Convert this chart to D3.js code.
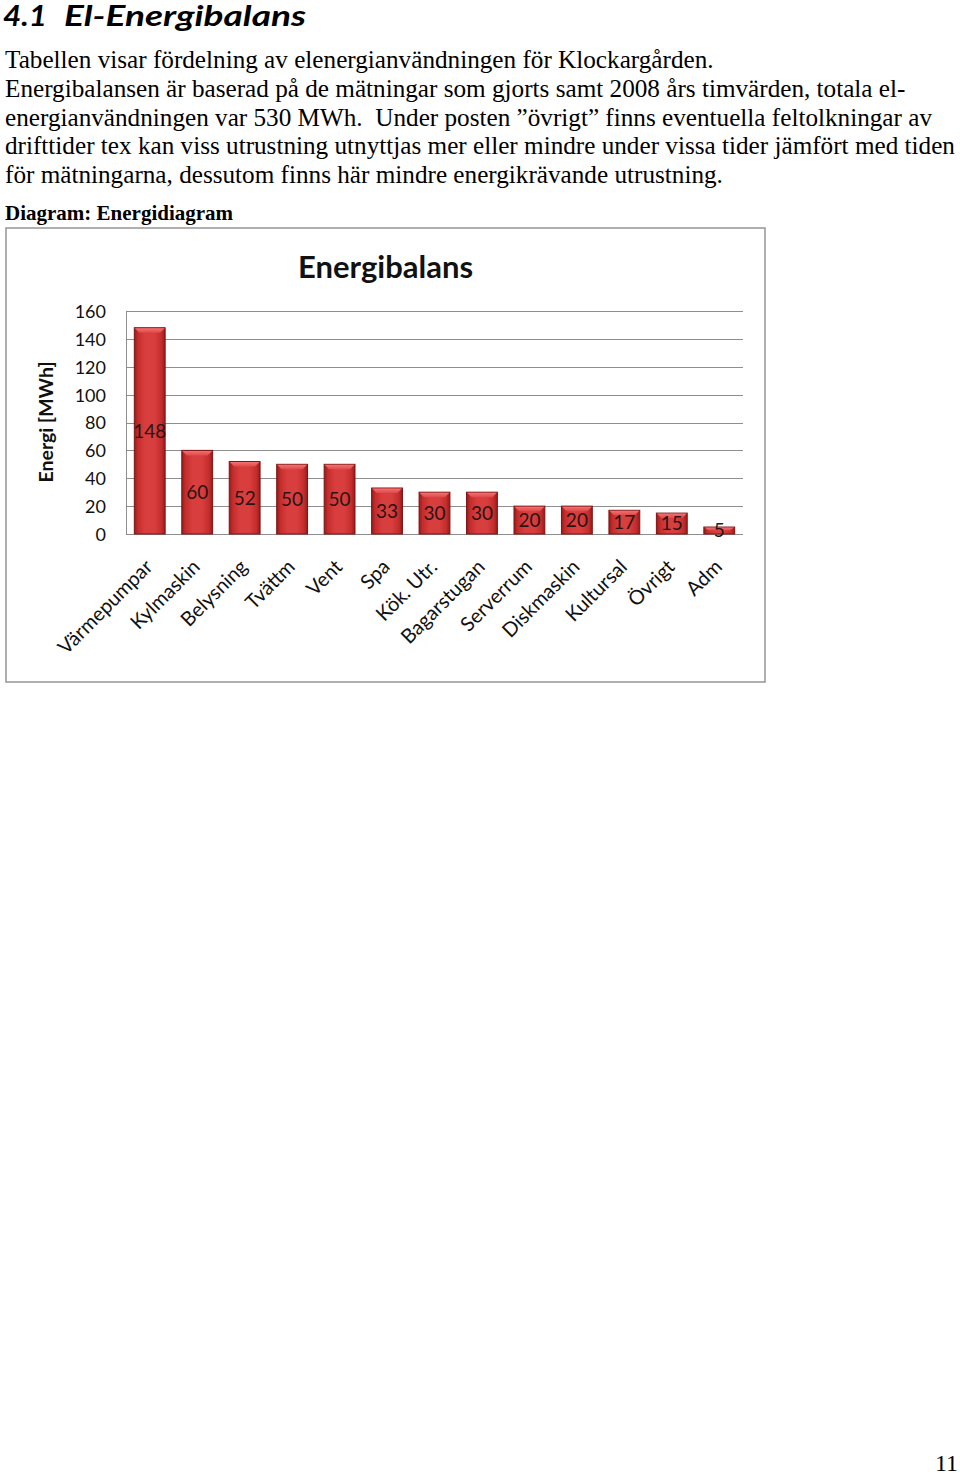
<!DOCTYPE html>
<html>
<head>
<meta charset="utf-8">
<script src="https://cdn.jsdelivr.net/npm/d3@7"></script>
<style>
  html, body { margin: 0; padding: 0; background: #fff; }
  svg { display: block; }
</style>
</head>
<body>
<svg id="page" width="960" height="1478"></svg>
<script>
// ---- data ----
const categories = ["Värmepumpar", "Kylmaskin", "Belysning", "Tvättm", "Vent", "Spa", "Kök. Utr.", "Bagarstugan", "Serverrum", "Diskmaskin", "Kultursal", "Övrigt", "Adm"];
const values = [148, 60, 52, 50, 50, 33, 30, 30, 20, 20, 17, 15, 5];
const yTicks = [0, 20, 40, 60, 80, 100, 120, 140, 160];
const headingNum = "4.1";
const headingText = "El-Energibalans";
const bodyLines = [
  "Tabellen visar fördelning av elenergianvändningen för Klockargården.",
  "Energibalansen är baserad på de mätningar som gjorts samt 2008 års timvärden, totala el-",
  "energianvändningen var 530 MWh.  Under posten ”övrigt” finns eventuella feltolkningar av",
  "drifttider tex kan viss utrustning utnyttjas mer eller mindre under vissa tider jämfört med tiden",
  "för mätningarna, dessutom finns här mindre energikrävande utrustning."
];
const captionText = "Diagram: Energidiagram";
const chartTitle = "Energibalans";
const yTitle = "Energi [MWh]";
const pageNumber = "11";

const svg = d3.select("#page");
const serif = "'Liberation Serif', 'Times New Roman', serif";
const sans = "Lato, 'Open Sans', sans-serif";

// ---- document text ----
const hd = svg.append("g")
  .attr("font-family", sans).attr("font-weight", "bold").attr("font-style", "italic")
  .attr("font-size", 29).attr("fill", "#000");
hd.append("text").attr("x", 3).attr("y", 26).attr("textLength", 44).attr("lengthAdjust", "spacingAndGlyphs").text(headingNum);
hd.append("text").attr("x", 64).attr("y", 26).attr("textLength", 242).attr("lengthAdjust", "spacingAndGlyphs").text(headingText);

svg.append("g").selectAll("text").data(bodyLines).join("text")
  .attr("x", 5)
  .attr("y", (d, i) => 68 + i * 28.8)
  .attr("font-family", serif).attr("font-size", 25.2).attr("fill", "#000")
  .attr("xml:space", "preserve")
  .text(d => d);

svg.append("text")
  .attr("x", 5).attr("y", 220)
  .attr("font-family", serif).attr("font-weight", "bold")
  .attr("font-size", 21).attr("fill", "#000")
  .text(captionText);

svg.append("text")
  .attr("x", 958).attr("y", 1471).attr("text-anchor", "end")
  .attr("font-family", serif).attr("font-size", 24).attr("fill", "#000")
  .text(pageNumber);

// ---- chart ----
const frame = { x: 6, y: 228, w: 759, h: 454 };
svg.append("rect")
  .attr("x", frame.x).attr("y", frame.y).attr("width", frame.w).attr("height", frame.h)
  .attr("fill", "#fff").attr("stroke", "#9c9c9c").attr("stroke-width", 1.6);

const plot = { left: 126, right: 743, top: 311, bottom: 534 };

const x = d3.scaleBand().domain(categories)
  .range([plot.left, plot.right]).paddingInner(0.35).paddingOuter(0.175);
const y = d3.scaleLinear().domain([0, 160]).range([plot.bottom, plot.top]);

// gradients
const defs = svg.append("defs");
const g1 = defs.append("linearGradient").attr("id", "barFace")
  .attr("x1", "0").attr("x2", "1").attr("y1", "0").attr("y2", "0");
[["0%", "#961a1a"], ["12%", "#c42d2d"], ["35%", "#d93e3e"], ["65%", "#d93e3e"], ["88%", "#c42d2d"], ["100%", "#961a1a"]]
  .forEach(([o, c]) => g1.append("stop").attr("offset", o).attr("stop-color", c));
const g2 = defs.append("linearGradient").attr("id", "barTop")
  .attr("x1", "0").attr("x2", "0").attr("y1", "0").attr("y2", "1");
[["0%", "#f27272"], ["100%", "#e04848"]]
  .forEach(([o, c]) => g2.append("stop").attr("offset", o).attr("stop-color", c));

// gridlines
svg.append("g").selectAll("line").data(yTicks).join("line")
  .attr("x1", plot.left).attr("x2", plot.right)
  .attr("y1", d => Math.round(y(d)) + 0.5).attr("y2", d => Math.round(y(d)) + 0.5)
  .attr("stroke", "#8e8e8e").attr("stroke-width", 1);
svg.append("line")
  .attr("x1", plot.left + 0.5).attr("x2", plot.left + 0.5)
  .attr("y1", y(160)).attr("y2", y(0))
  .attr("stroke", "#8e8e8e").attr("stroke-width", 1);

// y axis labels
const yAxis = d3.axisLeft(y).tickValues(yTicks).tickSize(0).tickPadding(0);
const yg = svg.append("g").attr("transform", `translate(106,0)`).call(yAxis);
yg.select(".domain").remove();
yg.selectAll("text")
  .attr("font-family", sans).attr("font-size", 18).attr("fill", "#111").attr("dy", "0.36em");

// bars
const bars = svg.append("g").selectAll("g").data(categories.map((c, i) => ({ c, v: values[i] }))).join("g");
bars.append("rect")
  .attr("x", d => x(d.c)).attr("y", d => y(d.v))
  .attr("width", x.bandwidth()).attr("height", d => y(0) - y(d.v))
  .attr("fill", "url(#barFace)").attr("stroke", "#7e1414").attr("stroke-width", 1);
// top bevel
bars.append("path")
  .attr("d", d => {
    const x0 = x(d.c), x1 = x0 + x.bandwidth(), t = y(d.v);
    const bev = Math.min(5, (y(0) - y(d.v)) / 2);
    const s = Math.min(5, x.bandwidth() / 4);
    return `M${x0 + 0.5},${t + 0.5} L${x1 - 0.5},${t + 0.5} L${x1 - s},${t + bev} L${x0 + s},${t + bev} Z`;
  })
  .attr("fill", "url(#barTop)").attr("stroke", "none");
// value labels
bars.append("text")
  .attr("x", d => x(d.c) + x.bandwidth() / 2)
  .attr("y", d => (y(d.v) + y(0)) / 2)
  .attr("dy", "0.36em").attr("text-anchor", "middle")
  .attr("font-family", sans).attr("font-size", 19).attr("fill", "#2a1414")
  .text(d => d.v);

// x axis labels
const xAxis = d3.axisBottom(x).tickSize(0).tickPadding(0);
const xg = svg.append("g").attr("transform", `translate(0,${plot.bottom})`).call(xAxis);
xg.select(".domain").remove();
xg.selectAll("text")
  .attr("font-family", sans).attr("font-size", 20).attr("fill", "#111")
  .attr("text-anchor", "end")
  .attr("transform", "translate(-3,27) rotate(-45)")
  .attr("dy", "0.5em").attr("y", 0);

// titles
svg.append("text")
  .attr("x", frame.x + frame.w / 2).attr("y", 278).attr("text-anchor", "middle")
  .attr("font-family", sans).attr("font-weight", "bold").attr("font-size", 31).attr("fill", "#111")
  .text(chartTitle);
svg.append("text")
  .attr("transform", "translate(46,422) rotate(-90)")
  .attr("text-anchor", "middle").attr("dy", "0.36em")
  .attr("font-family", sans).attr("font-weight", "bold").attr("font-size", 19.5).attr("fill", "#111")
  .text(yTitle);
</script>
</body>
</html>
